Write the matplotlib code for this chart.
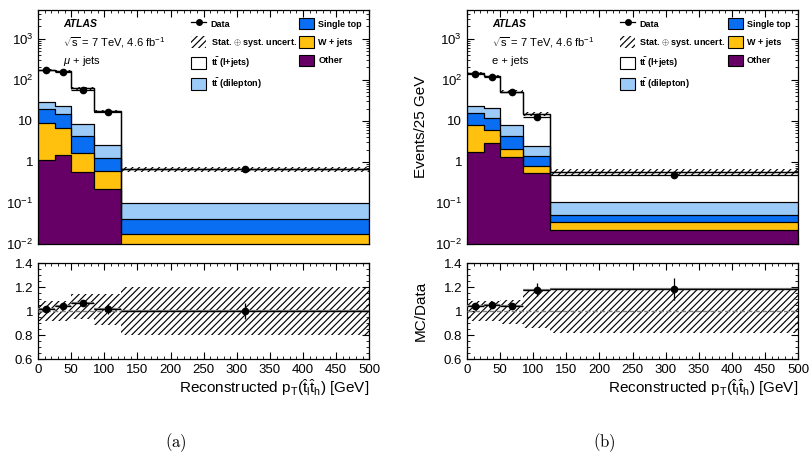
import numpy as np
import matplotlib
matplotlib.use('Agg')
import matplotlib.pyplot as plt
from matplotlib.patches import Patch
from matplotlib.lines import Line2D
from matplotlib.ticker import MultipleLocator, AutoMinorLocator, LogLocator, FixedLocator, FuncFormatter, NullFormatter

plt.rcParams['font.family'] = ['Liberation Sans', 'DejaVu Sans']
plt.rcParams['mathtext.fontset'] = 'custom'
plt.rcParams['mathtext.rm'] = 'Liberation Sans'
plt.rcParams['mathtext.it'] = 'Liberation Sans:italic'
plt.rcParams['mathtext.bf'] = 'Liberation Sans:bold'
plt.rcParams['hatch.linewidth'] = 0.85

# bin edges in GeV
edges = [0, 25, 50, 85, 125, 500]

# (a) mu + jets, events / 25 GeV, stacked bottom -> top
mu_other = [1.1, 1.45, 0.57, 0.22, 0.008]
mu_wjets = [7.7, 5.45, 1.06, 0.38, 0.0099]
mu_single = [10.5, 7.6, 2.67, 0.63, 0.0236]
mu_dilep = [10.3, 8.7, 4.3, 1.37, 0.0585]
mu_ljets = [145, 140, 53, 14.4, 0.56]
mu_data = [171, 157, 57.8, 16.7, 0.66]
mu_data_relerr = [0.015, 0.015, 0.02, 0.04, 0.07]
mu_unc_main = [0.06, 0.06, 0.08, 0.10, 0.13]
mu_band_lo = [0.92, 0.92, 0.93, 0.88, 0.80]
mu_band_hi = [1.08, 1.08, 1.14, 1.14, 1.20]

# (b) e + jets
e_other = [1.75, 2.9, 1.32, 0.54, 0.0224]
e_wjets = [6.35, 3.2, 0.76, 0.24, 0.0116]
e_single = [7.6, 5.7, 2.12, 0.65, 0.018]
e_dilep = [8.0, 9.0, 3.6, 1.07, 0.054]
e_ljets = [119.3, 104.2, 44.2, 12.1, 0.474]
e_data = [137.5, 119, 50, 12.4, 0.49]
e_data_relerr = [0.015, 0.015, 0.02, 0.045, 0.08]
e_unc_main = [0.06, 0.06, 0.08, 0.12, 0.15]
e_band_lo = [0.92, 0.92, 0.89, 0.86, 0.82]
e_band_hi = [1.08, 1.08, 1.09, 1.17, 1.18]

sample_names = ['Other', 'W + jets', 'Single top', r'$\mathbf{t\bar{t}}$ (dilepton)', r'$\mathbf{t\bar{t}}$ (l+jets)']
sample_colors = ['#660066', '#ffc10e', '#0a6ef2', '#9ccbf7', 'white']

log_ticks = [1e-2, 1e-1, 1, 10, 1e2, 1e3]
log_labels = ['10$^{-2}$', '10$^{-1}$', '1', '10', '10$^{2}$', '10$^{3}$']

channel_labels = [r'$\mu$ + jets', 'e + jets']
captions = ['(a)', '(b)']

fig = plt.figure(figsize=(8.1, 4.58), dpi=100)


def style_axes(ax):
    ax.tick_params(which='both', direction='in', top=True, right=True, labelsize=9.5)
    ax.tick_params(which='major', length=5, width=0.8)
    ax.tick_params(which='minor', length=2.5, width=0.6)
    for s in ax.spines.values():
        s.set_linewidth(0.9)


def draw_panel(x0, comps, data, data_relerr, unc_main, band_lo, band_hi, chan, caption):
    e = np.array(edges, dtype=float)
    centers = 0.5 * (e[1:] + e[:-1])
    halfw = 0.5 * (e[1:] - e[:-1])
    widths = e[1:] - e[:-1]

    axm = fig.add_axes([x0, 0.467, 0.409, 0.511])
    axr = fig.add_axes([x0, 0.216, 0.409, 0.2096])

    # stacked histogram
    bottom = np.full(len(centers), 1e-5)
    for vals, col in zip(comps, sample_colors):
        top = bottom + np.array(vals)
        axm.stairs(top, e, baseline=bottom, fill=True, facecolor=col, edgecolor='none', zorder=2)
        axm.stairs(top, e, baseline=bottom, fill=False, color='black', lw=0.8, zorder=3)
        bottom = top
    total = bottom
    axm.stairs(total, e, baseline=None, color='black', lw=1.0, zorder=3)

    # uncertainty band on total
    unc = np.array(unc_main)
    axm.bar(e[:-1], total * 2 * unc, bottom=total * (1 - unc), width=widths, align='edge',
            fill=False, hatch='/////', lw=0, edgecolor='black', zorder=4)

    d = np.array(data)
    derr = d * np.array(data_relerr)
    axm.errorbar(centers, d, yerr=derr, xerr=halfw, fmt='o', color='black', ms=4.5,
                 lw=0.9, capsize=0, zorder=5)

    axm.set_yscale('log')
    axm.set_ylim(0.01, 5000)
    axm.set_xlim(0, 500)
    axm.yaxis.set_major_locator(FixedLocator(log_ticks))
    axm.yaxis.set_major_formatter(FuncFormatter(lambda v, p: log_labels[log_ticks.index(v)] if v in log_ticks else ''))
    axm.yaxis.set_minor_locator(LogLocator(base=10, subs=np.arange(2, 10), numticks=20))
    axm.yaxis.set_minor_formatter(NullFormatter())
    axm.xaxis.set_major_locator(MultipleLocator(50))
    axm.xaxis.set_minor_locator(MultipleLocator(10))
    axm.set_xticklabels([])
    style_axes(axm)
    axm.set_ylabel('Events/25 GeV', fontsize=11)
    axm.yaxis.set_label_coords(-0.118, 0.5)

    axm.text(0.075, 0.94, 'ATLAS', transform=axm.transAxes, fontsize=7.5,
             fontweight='bold', fontstyle='italic', va='center')
    axm.text(0.075, 0.859, r'$\sqrt{\mathregular{s}}$ = 7 TeV, 4.6 fb$^{-1}$', transform=axm.transAxes,
             fontsize=8, va='center')
    axm.text(0.075, 0.782, chan, transform=axm.transAxes, fontsize=8, va='center')

    # legend: two columns
    h_data = Line2D([], [], color='black', marker='o', ms=4, lw=0.9)
    h_unc = Patch(facecolor='white', edgecolor='black', hatch='/////', lw=0)
    h_patch = [Patch(facecolor=c, edgecolor='black', lw=0.8) for c in sample_colors]
    kw = dict(frameon=False, loc='upper left', borderpad=0, borderaxespad=0,
              handlelength=1.7, handleheight=1.55, labelspacing=0.78, handletextpad=0.45,
              prop={'weight': 'bold', 'size': 6.5})
    leg1 = axm.legend([h_data, h_unc, h_patch[4], h_patch[3]],
                      ['Data', r'Stat. $\oplus$ syst. uncert.', sample_names[4], sample_names[3]],
                      bbox_to_anchor=(0.462, 0.966), **kw)
    axm.add_artist(leg1)
    axm.legend([h_patch[2], h_patch[1], h_patch[0]], sample_names[2::-1],
               bbox_to_anchor=(0.787, 0.966), **kw)

    # ratio panel
    ratio = total / d
    lo = np.array(band_lo)
    hi = np.array(band_hi)
    axr.bar(e[:-1], hi - lo, bottom=lo, width=widths, align='edge', fill=False,
            hatch='/////', lw=0, edgecolor='black', zorder=2)
    axr.axhline(1.0, color='grey', ls='--', lw=1.0, zorder=3)
    axr.hlines(ratio, e[:-1], e[1:], color='grey', lw=1.6, zorder=3)
    axr.errorbar(centers, ratio, yerr=ratio * np.array(data_relerr), xerr=halfw, fmt='o',
                 color='black', ms=4.5, lw=0.9, capsize=0, zorder=5)
    axr.set_xlim(0, 500)
    axr.set_ylim(0.6, 1.4)
    axr.yaxis.set_major_locator(MultipleLocator(0.2))
    axr.yaxis.set_minor_locator(AutoMinorLocator(4))
    axr.yaxis.set_major_formatter(FuncFormatter(lambda v, p: '%g' % round(v, 2)))
    axr.xaxis.set_major_locator(MultipleLocator(50))
    axr.xaxis.set_minor_locator(MultipleLocator(10))
    style_axes(axr)
    axr.set_ylabel('MC/Data', fontsize=11)
    axr.yaxis.set_label_coords(-0.118, 0.5)
    axr.set_xlabel(r'Reconstructed p$_{\mathregular{T}}$($\mathregular{\hat{t}_l\hat{t}_h}$) [GeV]',
                   fontsize=11, loc='right')
    axr.xaxis.set_label_coords(1.0, -0.30)
    axr.xaxis.label.set_va('center')

    fig.text(x0 + 0.17, 1 - 443 / 458, r'$\mathrm{' + caption + '}$', math_fontfamily='cm',
             fontsize=12, ha='center', va='center')


draw_panel(0.047, [mu_other, mu_wjets, mu_single, mu_dilep, mu_ljets], mu_data, mu_data_relerr,
           mu_unc_main, mu_band_lo, mu_band_hi, channel_labels[0], captions[0])
draw_panel(0.5765, [e_other, e_wjets, e_single, e_dilep, e_ljets], e_data, e_data_relerr,
           e_unc_main, e_band_lo, e_band_hi, channel_labels[1], captions[1])

fig.savefig('out.png', dpi=100)
